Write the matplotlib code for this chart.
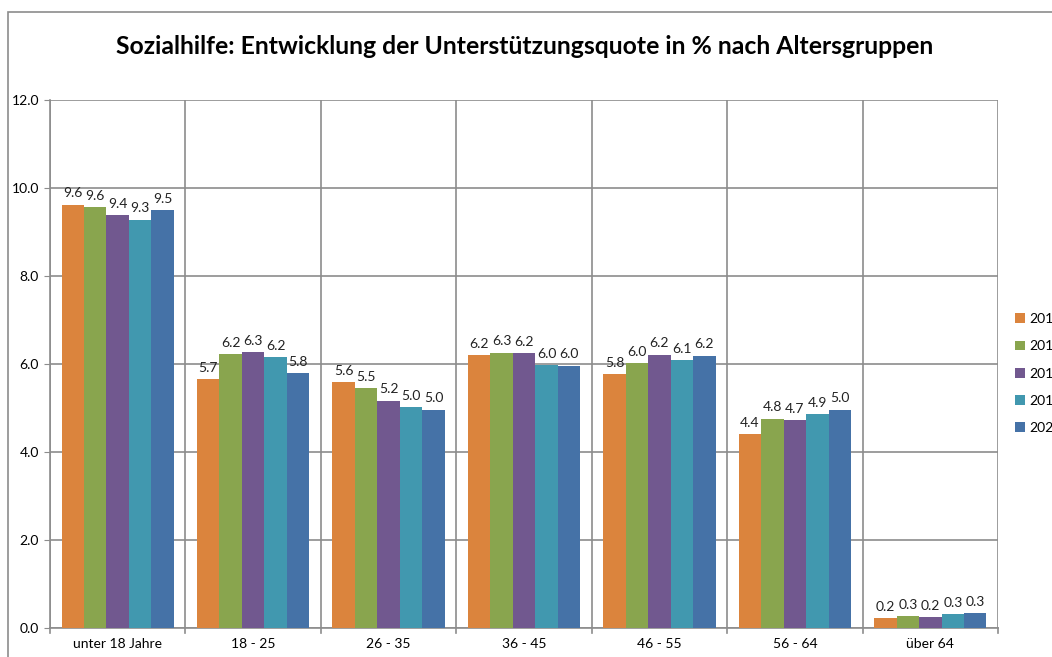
import numpy as np
import matplotlib.pyplot as plt
from matplotlib.patches import Rectangle

plt.rcParams['font.family'] = ['Lato', 'DejaVu Sans']

categories = ['unter 18 Jahre', '18 - 25', '26 - 35', '36 - 45', '46 - 55', '56 - 64', 'über 64']
# legend labels as they appear (cut at the right edge of the picture)
years = ['201', '201', '201', '201', '202']

q_2016 = [9.62, 5.65, 5.58, 6.20, 5.77, 4.41, 0.22]
q_2017 = [9.57, 6.22, 5.45, 6.26, 6.02, 4.76, 0.27]
q_2018 = [9.38, 6.27, 5.17, 6.24, 6.21, 4.73, 0.24]
q_2019 = [9.28, 6.16, 5.02, 5.98, 6.09, 4.86, 0.32]
q_2020 = [9.50, 5.79, 4.96, 5.96, 6.19, 4.96, 0.34]
series = [q_2016, q_2017, q_2018, q_2019, q_2020]

colors = ['#DB843D', '#89A54E', '#71588F', '#4198AF', '#4572A7']
grid_col = '#8c8c8c'

fig = plt.figure(figsize=(10.52, 6.57), dpi=100)
ax = fig.add_axes([50 / 1052, 1 - 628 / 657, 948 / 1052, 528 / 657])

x = np.arange(len(categories))
bw = 0.166
for i, vals in enumerate(series):
    pos = x + (i - 2) * bw
    bars = ax.bar(pos, vals, bw, color=colors[i], label=years[i], zorder=3)
    for b, v in zip(bars, vals):
        ax.text(b.get_x() + b.get_width() / 2, v + 0.12, f'{v:.1f}',
                ha='center', va='bottom', fontsize=10, color='#222222', zorder=4)

ax.set_xlim(-0.5, len(categories) - 0.5)
ax.set_ylim(0, 12)
ax.set_yticks(np.arange(0, 12.1, 2))
ax.set_yticklabels([f'{t:.1f}' for t in np.arange(0, 12.1, 2)], fontsize=10)
ax.set_xticks(x)
ax.set_xticklabels(categories, fontsize=10)
ax.tick_params(axis='x', length=0, pad=7)
ax.tick_params(axis='y', length=4, color=grid_col, pad=4)

for xb in np.arange(-0.5, len(categories), 1.0):
    ax.axvline(xb, color=grid_col, lw=1.2, zorder=1)
    ax.plot([xb, xb], [0, -0.12], color=grid_col, lw=1.2, clip_on=False)
ax.yaxis.grid(True, color=grid_col, lw=1.2, zorder=1)

for s in ['top', 'right']:
    ax.spines[s].set_visible(False)
for s in ['left', 'bottom']:
    ax.spines[s].set_color(grid_col)
    ax.spines[s].set_linewidth(1.2)

fig.suptitle('Sozialhilfe: Entwicklung der Unterstützungsquote in % nach Altersgruppen',
             x=525 / 1052, y=1 - 47 / 657, va='center', fontsize=17.8, fontweight='bold')

ax.legend(loc='upper left', bbox_to_anchor=(1008 / 1052, 1 - 306 / 657),
          bbox_transform=fig.transFigure, frameon=False, fontsize=10,
          handlelength=0.7, handleheight=0.7, handletextpad=0.35, labelspacing=1.1,
          borderpad=0)

fig.patches.append(Rectangle((8 / 1052, -0.1), 1.2, 1 - 12 / 657 + 0.1,
                             transform=fig.transFigure, fill=False,
                             edgecolor='#8c8c8c', lw=1.2))

fig.savefig('out.png', dpi=100)
